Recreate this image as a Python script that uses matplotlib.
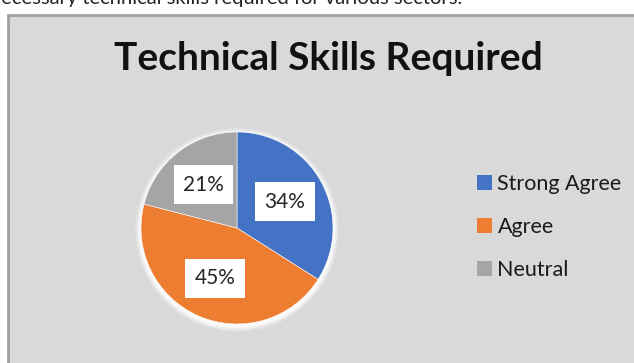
import matplotlib
matplotlib.use('Agg')
import matplotlib.pyplot as plt
from matplotlib.patches import Rectangle, Patch, Circle

labels = ['Strong Agree', 'Agree', 'Neutral']
shares = [34, 45, 21]
colors = ['#4472C4', '#ED7D31', '#A5A5A5']
title = 'Technical Skills Required'
caption = 'necessary technical skills required for various sectors.'

W, H = 634, 363
fig = plt.figure(figsize=(W / 100, H / 100), dpi=100)
fig.patch.set_facecolor('white')

# chart area box (grey with border on top / left, rest runs off the picture)
fig.patches.append(Rectangle((8 / W, -0.05), 1.1, 1.05 - 15 / H,
                             transform=fig.transFigure, facecolor='#D9D9D9',
                             edgecolor='#A0A0A0', linewidth=2, zorder=-10))

# caption of the surrounding document, cut off at the top
fig.text(462 / W, 1 - 4 / H, caption, ha='right', va='baseline',
         fontsize=14.5, family='Lato', color='#222222')

fig.text(328 / W, 1 - 70 / H, title, ha='center', va='baseline',
         fontsize=28, family='Lato', fontweight='bold', color='#111111')

# pie axes: centre ~ (237, 228) px, radius ~ 96 px
r = 96
ax = fig.add_axes([(237 - r) / W, (H - 228 - r) / H, 2 * r / W, 2 * r / H],
                  zorder=2)
ax.set_facecolor('none')
# soft white glow under the pie
for k, a in [(1.06, 0.25), (1.04, 0.45), (1.02, 0.7)]:
    ax.add_patch(Circle((0, -0.02), k, facecolor='white', edgecolor='none',
                        alpha=a, clip_on=False, zorder=0))
wedges, texts, autotexts = ax.pie(
    shares, colors=colors, startangle=90, counterclock=False,
    autopct='%d%%', pctdistance=0.57, radius=1.0,
    wedgeprops=dict(edgecolor='white', linewidth=0.4, zorder=1))
for t in autotexts:
    t.set_fontsize(15)
    t.set_family('Lato')
    t.set_color('#262626')
    t.set_zorder(3)
    t.set_bbox(dict(boxstyle='square,pad=0.45', facecolor='white',
                    edgecolor='none'))
ax.set_xlim(-1.0, 1.0)
ax.set_ylim(-1.0, 1.0)
ax.set_aspect('equal')
ax.axis('off')

handles = [Patch(facecolor=c, edgecolor='none') for c in colors]
leg = fig.legend(handles, labels, loc='center left',
                 bbox_to_anchor=(477 / W, 1 - 227 / H), frameon=False,
                 borderpad=0, borderaxespad=0, handlelength=0.7,
                 handleheight=0.7, handletextpad=0.25, labelspacing=1.05,
                 prop=dict(family='Lato', size=15.5))
for t in leg.get_texts():
    t.set_color('#1a1a1a')

fig.savefig('out.png', dpi=100)
